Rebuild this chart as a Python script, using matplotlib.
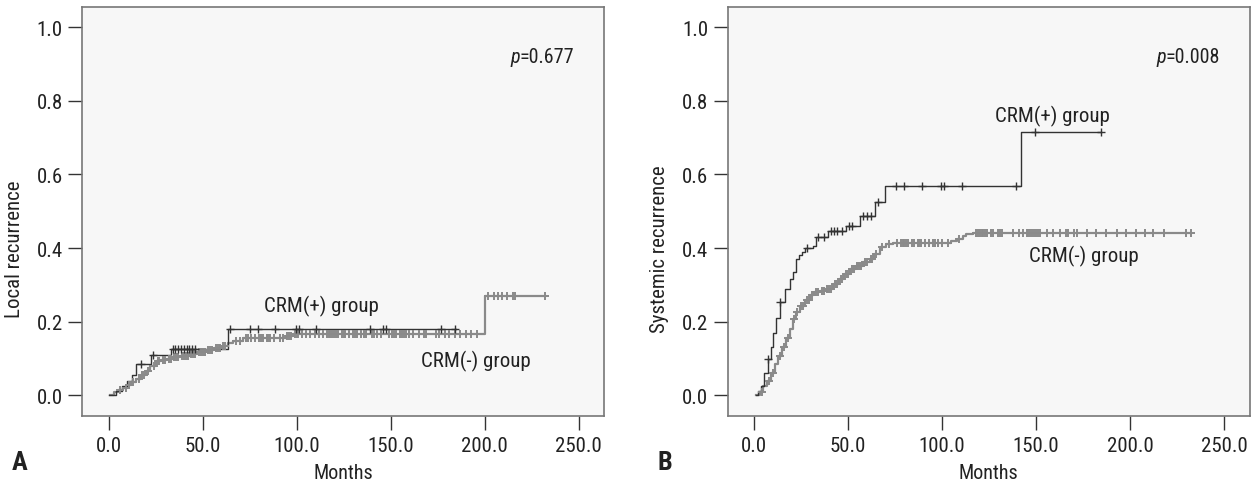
import numpy as np
import matplotlib
matplotlib.use("Agg")
import matplotlib.pyplot as plt
from matplotlib import font_manager

# ---- choose a condensed sans-serif if one is installed ----
_fl = font_manager.fontManager.ttflist
_names = {f.name for f in _fl}
FONT = None
STRETCH = 'normal'
for cand in ['Liberation Sans Narrow', 'Roboto Condensed', 'Open Sans Condensed',
             'Noto Sans Condensed', 'DejaVu Sans Condensed', 'Arial Narrow']:
    if cand in _names:
        FONT = cand
        break
if FONT is None:
    for f in _fl:
        st = str(f.stretch).lower()
        if st in ('condensed', 'semi-condensed', 'extra-condensed') or st.isdigit() and int(st) < 500:
            if f.style == 'normal' and f.name in ('Noto Sans', 'DejaVu Sans', 'Roboto',
                                                  'Open Sans', 'Liberation Sans', 'Inter', 'Lato'):
                FONT = f.name
                STRETCH = 'condensed'
                break
if FONT is None:
    FONT = 'Liberation Sans'
plt.rcParams['font.family'] = [FONT, 'DejaVu Sans']
plt.rcParams['font.stretch'] = STRETCH
NARROW = FONT != 'Liberation Sans'
fs_tick = 15 if NARROW else 13.5
fs_lbl = 15 if NARROW else 14

# ---------------- Data ----------------
xticks = [0, 50, 100, 150, 200, 250]
yticks = [0.0, 0.2, 0.4, 0.6, 0.8, 1.0]

# Panel A : local recurrence
A_pos_t = [0, 2, 4, 7, 10, 12.5, 14.7, 22.7, 33.4, 63.3]
A_pos_y = [0, 0.0, 0.012, 0.025, 0.04, 0.055, 0.084, 0.109, 0.127, 0.181]
A_pos_end = 185
A_pos_cens = [17.4, 23.5, 34, 35.5, 37, 38.5, 40, 41.5, 43, 44.5, 46, 64.4, 75, 79.5,
              88.3, 99.9, 101.1, 110.5, 138.9, 146, 147.8, 177, 184.1]

A_neg_t = [0.5, 3, 5, 7.6, 10, 12, 14.7, 17, 20, 22, 25.4, 28, 31, 34.2, 38, 43.1, 47,
           52, 56, 60.8, 63.5, 66.2, 71.5, 94.6, 98.1, 200]
A_neg_y = [0, 0.008, 0.014, 0.021, 0.028, 0.036, 0.044, 0.055, 0.066, 0.08, 0.093, 0.097,
           0.1, 0.103, 0.107, 0.111, 0.117, 0.123, 0.128, 0.134, 0.142, 0.148, 0.157,
           0.161, 0.166, 0.27]
A_neg_end = 232
A_neg_cens = [6, 9, 11, 13, 16, 18, 19, 21, 24, 26, 27, 29, 30, 32, 33, 35, 36, 37, 39,
              40, 41, 42, 44, 45, 46, 48, 49, 50, 51, 53, 54, 55, 57, 58, 59, 61, 62,
              68, 70, 73, 74, 76, 78, 80, 81, 82, 84, 85, 86, 88, 91, 93, 95, 96, 97,
              99, 100, 101, 103, 105, 107, 110, 112, 114, 116, 117, 118, 119, 120,
              121, 122, 124, 125, 126, 128, 130, 131, 132, 134, 136, 137, 140, 141,
              143, 145, 149, 151, 152, 153, 155, 156, 157, 158, 160, 162, 165, 168,
              169, 174, 176, 179, 181, 184, 187, 190, 193, 196, 202, 205, 207, 209,
              212, 215, 216, 232]

# Panel B : systemic recurrence
B_pos_t = [1, 2, 3.9, 5.5, 7.4, 8.8, 10.1, 11.9, 13.7, 16.4, 19, 20.5, 22.2, 24, 25.5,
           27, 31.5, 33.2, 39.4, 49.1, 56.2, 64.2, 69.5, 142.2]
B_pos_y = [0, 0.012, 0.025, 0.06, 0.10, 0.13, 0.17, 0.21, 0.254, 0.29, 0.317, 0.334,
           0.37, 0.38, 0.39, 0.40, 0.406, 0.429, 0.447, 0.461, 0.488, 0.526, 0.569, 0.714]
B_pos_end = 184.8
B_pos_cens = [7.4, 13.7, 28, 34, 37, 41, 42.5, 44, 47, 50.5, 52, 58, 60, 62, 66, 75.7,
              79.6, 89.4, 99.7, 100.9, 110.6, 139.2, 149.3, 184.8]

B_neg_t = [1, 3, 5, 7, 9, 11, 12.8, 15, 17, 19, 20.7, 22.5, 24.3, 27, 30, 32, 35, 38,
           42, 45, 48, 50.9, 54, 58, 61.5, 64, 66.8, 70, 74, 105, 108, 111, 113, 116.5]
B_neg_y = [0, 0.01, 0.025, 0.04, 0.06, 0.085, 0.107, 0.13, 0.155, 0.18, 0.207, 0.225,
           0.243, 0.26, 0.272, 0.28, 0.284, 0.29, 0.302, 0.315, 0.33, 0.343, 0.352,
           0.362, 0.37, 0.385, 0.402, 0.41, 0.415, 0.418, 0.425, 0.432, 0.438, 0.442]
B_neg_end = 232.6
B_neg_cens = [4, 8, 10, 14, 16, 18, 21, 23, 25, 26, 28, 29, 31, 33, 34, 36, 37, 39, 40,
              41, 43, 44, 46, 47, 49, 50, 52, 53, 55, 56, 57, 59, 60, 62, 63, 65, 68,
              72, 76, 78, 79, 80, 81, 82, 84, 85, 87, 88, 89, 91, 93, 95, 96, 98, 100,
              103, 109, 118, 119, 120, 121, 122, 123, 124, 126, 127, 130, 131, 132,
              138, 141, 143, 145, 146, 147, 148, 149, 150, 151, 152, 156, 159, 163,
              166, 167, 170, 172, 177, 182, 187, 193, 198, 203, 208, 212, 218, 230,
              232.6]

panels = [
    dict(letter="A", ylabel="Local recurrence", p="0.677",
         pos=(A_pos_t, A_pos_y, A_pos_end, A_pos_cens),
         neg=(A_neg_t, A_neg_y, A_neg_end, A_neg_cens),
         pos_lbl=(113.4, 0.245), neg_lbl=(195.6, 0.095)),
    dict(letter="B", ylabel="Systemic recurrence", p="0.008",
         pos=(B_pos_t, B_pos_y, B_pos_end, B_pos_cens),
         neg=(B_neg_t, B_neg_y, B_neg_end, B_neg_cens),
         pos_lbl=(158.9, 0.761), neg_lbl=(175.4, 0.381)),
]

# ---------------- Figure ----------------
fig = plt.figure(figsize=(12.53, 4.85), dpi=100)
lefts = [0.0657, 0.5808]
ax_w, ax_b, ax_h = 0.4166, 0.1396, 0.844

def draw_curve(ax, data, color, lw, ms, mew):
    t, y, end, cens = data
    t = np.asarray(t, float)
    y = np.asarray(y, float)
    tt = np.append(t, end)
    yy = np.append(y, y[-1])
    ax.step(tt, yy, where='post', color=color, lw=lw, zorder=3)
    c = np.asarray(cens, float)
    idx = np.clip(np.searchsorted(t, c, side='right') - 1, 0, len(y) - 1)
    ax.plot(c, y[idx], linestyle='none', marker='+', color=color,
            markersize=ms, markeredgewidth=mew, zorder=4)

for i, pnl in enumerate(panels):
    ax = fig.add_axes([lefts[i], ax_b, ax_w, ax_h])
    ax.set_facecolor('#f7f7f7')
    draw_curve(ax, pnl["neg"], '#8a8a8a', 1.6, 6, 1.4)
    draw_curve(ax, pnl["pos"], '#333333', 1.0, 6, 1.0)
    ax.set_xlim(-14, 263.7)
    ax.set_ylim(-0.057, 1.055)
    ax.set_xticks(xticks)
    ax.set_xticklabels([f"{v:.1f}" for v in xticks])
    ax.set_yticks(yticks)
    ax.set_yticklabels([f"{v:.1f}" for v in yticks])
    ax.tick_params(axis='both', direction='out', length=10, width=1, color='#333333',
                   labelsize=fs_tick, labelcolor='#222222', pad=4)
    for s in ax.spines.values():
        s.set_color('#777777')
        s.set_linewidth(1.2)
    ax.set_xlabel("Months", fontsize=fs_tick - 0.5, color='#222222', labelpad=6)
    ax.set_ylabel(pnl["ylabel"], fontsize=fs_tick, color='#222222')
    ax.yaxis.set_label_coords(-0.112, 0.41)
    # p-value: italic "p" followed by upright value, right aligned
    pt = ax.text(0.943, 0.88, "=" + pnl['p'], transform=ax.transAxes,
                 ha='right', va='center', fontsize=fs_tick - 0.5, color='#222222')
    fig.canvas.draw()
    bb = pt.get_window_extent().transformed(ax.transAxes.inverted())
    ax.text(bb.x0, 0.88, "p", transform=ax.transAxes, ha='right', va='center',
            fontsize=fs_tick - 0.5, style='italic', color='#222222')
    ax.text(pnl["pos_lbl"][0], pnl["pos_lbl"][1], "CRM(+) group", ha='center',
            va='center', fontsize=fs_lbl, color='#222222')
    ax.text(pnl["neg_lbl"][0], pnl["neg_lbl"][1], "CRM(-) group", ha='center',
            va='center', fontsize=fs_lbl, color='#222222')
    fig.text(lefts[i] - 0.056, 0.03, pnl["letter"], fontsize=19, fontweight='bold',
             ha='left', va='baseline', color='#222222')

fig.savefig("out.png", dpi=100, facecolor='white')
